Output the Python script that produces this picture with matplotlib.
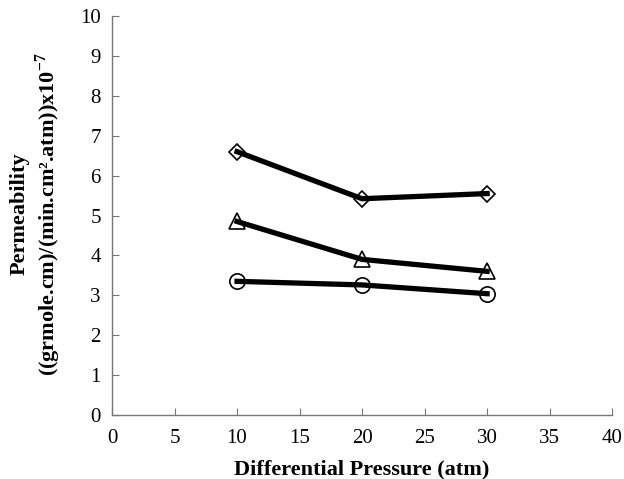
import matplotlib
matplotlib.use("Agg")
import matplotlib.pyplot as plt

plt.rcParams['font.family'] = ['Liberation Serif', 'DejaVu Serif']
plt.rcParams['mathtext.fontset'] = 'custom'
plt.rcParams['mathtext.rm'] = 'Liberation Serif'
plt.rcParams['mathtext.bf'] = 'Liberation Serif:bold'

# pressure (atm) and permeability (x1e-7) for the three membranes
pressure = [10, 20, 30]
perm_diamond = [6.6, 5.42, 5.55]
perm_triangle = [4.85, 3.9, 3.6]
perm_circle = [3.35, 3.26, 3.04]

fig = plt.figure(figsize=(6.24, 4.79), dpi=100)
ax = fig.add_axes([0.1795, 0.1336, 0.8015, 0.833])

for vals, mk, ms in [(perm_diamond, 'D', 8.5), (perm_triangle, '^', 11), (perm_circle, 'o', 11)]:
    ax.plot(pressure, vals, color='black', linewidth=3.8, marker=mk, markersize=ms,
            markerfacecolor='none', markeredgecolor='black', markeredgewidth=1.2)

ax.set_xlim(0, 40)
ax.set_ylim(0, 10)
ax.set_xticks(range(0, 41, 5))
ax.set_yticks(range(0, 11, 1))
for s in ['top', 'right']:
    ax.spines[s].set_visible(False)
for s in ['left', 'bottom']:
    ax.spines[s].set_color('#777777')
    ax.spines[s].set_linewidth(1.0)
ax.tick_params(direction='in', length=5, color='#777777', labelsize=15, pad=10)
ax.tick_params(axis='y', pad=8)

ax.set_xlabel('Differential Pressure (atm)', fontsize=16, fontweight='bold', labelpad=8)

# two-line y label, placed by hand so the lines sit close together
yc = 0.553
fig.text(20 / 624, yc, 'Permeability', rotation=90, ha='center', va='center',
         fontsize=16, fontweight='bold')
fig.text(48 / 624, yc, '((grmole.cm)/(min.cm².atm))x10$^{\\mathbf{-7}}$',
         rotation=90, ha='center', va='center', fontsize=16, fontweight='bold')

fig.savefig('out.png', dpi=100)
